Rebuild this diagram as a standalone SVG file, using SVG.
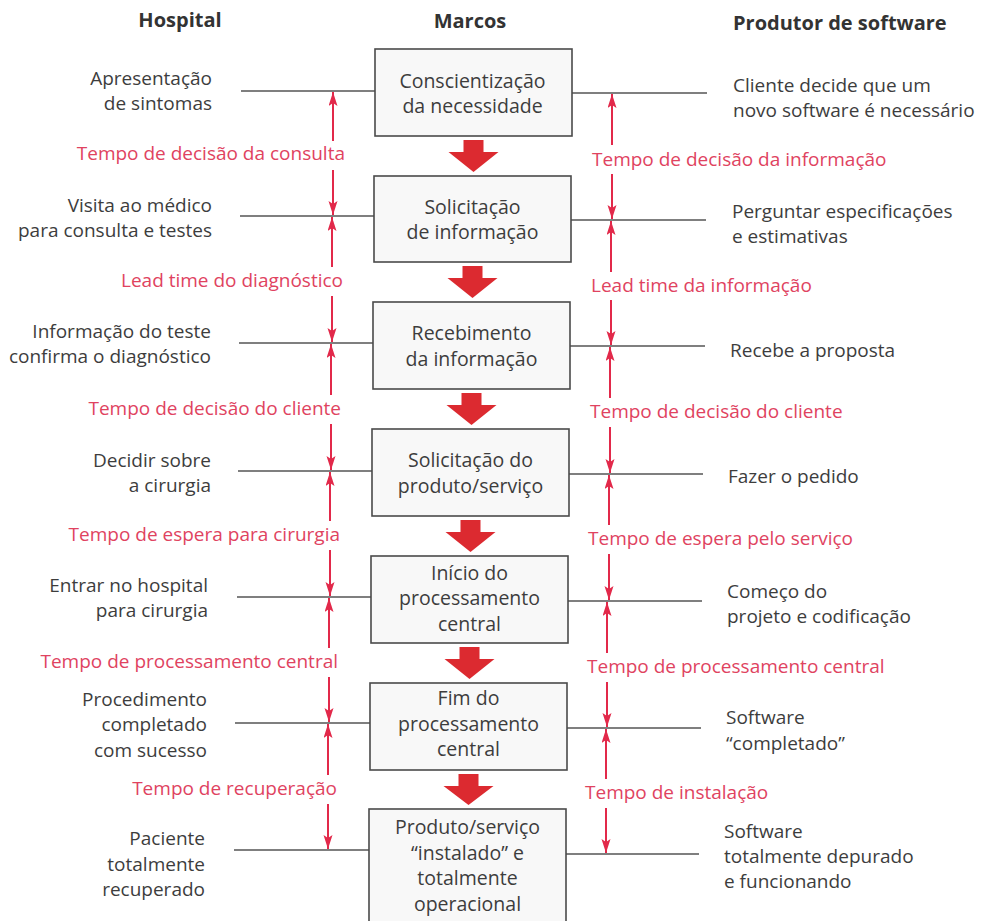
<svg xmlns="http://www.w3.org/2000/svg" width="983" height="921" viewBox="0 0 983 921">
<defs>
<style>
text{font-family:"Open Sans","Noto Sans","Liberation Sans",sans-serif;font-size:19px;fill:#3d3d3d}
.h{font-weight:bold;fill:#333;font-size:20px}
.r{fill:#e0435f}
.e{text-anchor:end}
.m{text-anchor:middle}
.box rect{fill:#f8f8f8;stroke:#4a4a4a;stroke-width:1.6}
.box text{font-size:19.5px}
.ln{stroke:#555;stroke-width:1.3;fill:none}
.ra{stroke:#e2294a;stroke-width:2;fill:none;marker-end:url(#ah)}
.big{fill:#dc2a30}
</style>
<marker id="ah" markerUnits="userSpaceOnUse" markerWidth="14" markerHeight="10" refX="14" refY="4.5" orient="auto">
<path d="M0,0 L14,4.5 L0,9 L3,4.5 z" fill="#e2294a"/>
</marker>
</defs>
<rect width="983" height="921" fill="#fff"/>

<g id="headers">
<text class="h m" x="180" y="27">Hospital</text>
<text class="h m" x="470" y="28">Marcos</text>
<text class="h" x="733" y="30">Produtor de software</text>
</g>

<g id="connectors">
<path class="ln" d="M241,91H375 M572,93H707"/>
<path class="ln" d="M240,216H374 M571,220H706"/>
<path class="ln" d="M239,343H373 M570,346H705"/>
<path class="ln" d="M238,471H372 M569,474H703"/>
<path class="ln" d="M237,597H371 M568,601H702"/>
<path class="ln" d="M235,723H370 M567,728H701"/>
<path class="ln" d="M234,850H369 M566,854H699"/>
<path class="big" d="M463.5,140H483.5V152H498.5L473.5,172L448.5,152H463.5Z"/>
<path class="big" d="M462.5,266H482.5V278H497.5L472.5,298L447.5,278H462.5Z"/>
<path class="big" d="M461.5,393H481.5V405H496.5L471.5,425L446.5,405H461.5Z"/>
<path class="big" d="M460.5,520H480.5V532H495.5L470.5,552L445.5,532H460.5Z"/>
<path class="big" d="M459.5,647H479.5V659H494.5L469.5,679L444.5,659H459.5Z"/>
<path class="big" d="M458.5,774H478.5V786H493.5L468.5,805L443.5,786H458.5Z"/>
<line class="ra" x1="333" y1="141" x2="333" y2="92"/>
<line class="ra" x1="333" y1="170" x2="333" y2="215"/>
<line class="ra" x1="332" y1="267" x2="332" y2="217"/>
<line class="ra" x1="332" y1="296" x2="332" y2="342"/>
<line class="ra" x1="331" y1="395" x2="331" y2="344"/>
<line class="ra" x1="331" y1="424" x2="331" y2="470"/>
<line class="ra" x1="330" y1="521" x2="330" y2="472"/>
<line class="ra" x1="330" y1="550" x2="330" y2="596"/>
<line class="ra" x1="329" y1="648" x2="329" y2="598"/>
<line class="ra" x1="329" y1="677" x2="329" y2="722"/>
<line class="ra" x1="328" y1="775" x2="328" y2="724"/>
<line class="ra" x1="328" y1="804" x2="328" y2="849"/>
<line class="ra" x1="612" y1="145" x2="612" y2="94"/>
<line class="ra" x1="612" y1="174" x2="612" y2="219"/>
<line class="ra" x1="611" y1="272" x2="611" y2="221"/>
<line class="ra" x1="611" y1="300" x2="611" y2="345"/>
<line class="ra" x1="610" y1="398" x2="610" y2="347"/>
<line class="ra" x1="610" y1="427" x2="610" y2="473"/>
<line class="ra" x1="609" y1="525" x2="609" y2="475"/>
<line class="ra" x1="609" y1="554" x2="609" y2="600"/>
<line class="ra" x1="607" y1="653" x2="607" y2="602"/>
<line class="ra" x1="607" y1="682" x2="607" y2="727"/>
<line class="ra" x1="606" y1="779" x2="606" y2="729"/>
<line class="ra" x1="606" y1="808" x2="606" y2="853"/>
</g>

<g id="time-labels">
<text class="r e" x="345" y="160">Tempo de decisão da consulta</text>
<text class="r e" x="343" y="287">Lead time do diagnóstico</text>
<text class="r e" x="341" y="415">Tempo de decisão do cliente</text>
<text class="r e" x="340" y="541">Tempo de espera para cirurgia</text>
<text class="r e" x="338" y="668">Tempo de processamento central</text>
<text class="r e" x="337" y="795">Tempo de recuperação</text>
<text class="r" x="592" y="166">Tempo de decisão da informação</text>
<text class="r" x="591" y="292">Lead time da informação</text>
<text class="r" x="590" y="418">Tempo de decisão do cliente</text>
<text class="r" x="588" y="545">Tempo de espera pelo serviço</text>
<text class="r" x="587" y="673">Tempo de processamento central</text>
<text class="r" x="585" y="799">Tempo de instalação</text>
</g>

<g id="m1" class="box">
<rect x="375" y="49" width="197" height="87"/>
<text class="m" x="472.5" y="88">Conscientização</text>
<text class="m" x="472.5" y="113">da necessidade</text>
</g>
<g id="m2" class="box">
<rect x="374" y="176" width="197" height="86"/>
<text class="m" x="472.5" y="214">Solicitação</text>
<text class="m" x="472.5" y="239">de informação</text>
</g>
<g id="m3" class="box">
<rect x="373" y="302" width="197" height="87"/>
<text class="m" x="471.5" y="340">Recebimento</text>
<text class="m" x="471.5" y="366">da informação</text>
</g>
<g id="m4" class="box">
<rect x="372" y="429" width="197" height="87"/>
<text class="m" x="470.5" y="467">Solicitação do</text>
<text class="m" x="470.5" y="493">produto/serviço</text>
</g>
<g id="m5" class="box">
<rect x="371" y="556" width="197" height="87"/>
<text class="m" x="469.5" y="580">Início do</text>
<text class="m" x="469.5" y="605">processamento</text>
<text class="m" x="469.5" y="631">central</text>
</g>
<g id="m6" class="box">
<rect x="370" y="683" width="197" height="87"/>
<text class="m" x="468.5" y="705">Fim do</text>
<text class="m" x="468.5" y="731">processamento</text>
<text class="m" x="468.5" y="756">central</text>
</g>
<g id="m7" class="box">
<rect x="369" y="809" width="197" height="140"/>
<text class="m" x="467.5" y="834">Produto/serviço</text>
<text class="m" x="467.5" y="860">“instalado” e</text>
<text class="m" x="467.5" y="885">totalmente</text>
<text class="m" x="467.5" y="911">operacional</text>
</g>

<g id="hospital">
<text class="e" x="212" y="85">Apresentação</text>
<text class="e" x="212" y="110">de sintomas</text>
<text class="e" x="212" y="212">Visita ao médico</text>
<text class="e" x="212" y="237">para consulta e testes</text>
<text class="e" x="211" y="338">Informação do teste</text>
<text class="e" x="211" y="363">confirma o diagnóstico</text>
<text class="e" x="211" y="467">Decidir sobre</text>
<text class="e" x="211" y="492">a cirurgia</text>
<text class="e" x="208" y="592">Entrar no hospital</text>
<text class="e" x="208" y="617">para cirurgia</text>
<text class="e" x="207" y="706">Procedimento</text>
<text class="e" x="207" y="731">completado</text>
<text class="e" x="207" y="757">com sucesso</text>
<text class="e" x="205" y="845">Paciente</text>
<text class="e" x="205" y="871">totalmente</text>
<text class="e" x="205" y="896">recuperado</text>
</g>

<g id="software">
<text x="733" y="92">Cliente decide que um</text>
<text x="733" y="117">novo software é necessário</text>
<text x="732" y="218">Perguntar especificações</text>
<text x="732" y="243">e estimativas</text>
<text x="730" y="357">Recebe a proposta</text>
<text x="728" y="483">Fazer o pedido</text>
<text x="727" y="598">Começo do</text>
<text x="727" y="623">projeto e codificação</text>
<text x="726" y="724">Software</text>
<text x="726" y="750">“completado”</text>
<text x="724" y="838">Software</text>
<text x="724" y="863">totalmente depurado</text>
<text x="724" y="888">e funcionando</text>
</g>
</svg>
